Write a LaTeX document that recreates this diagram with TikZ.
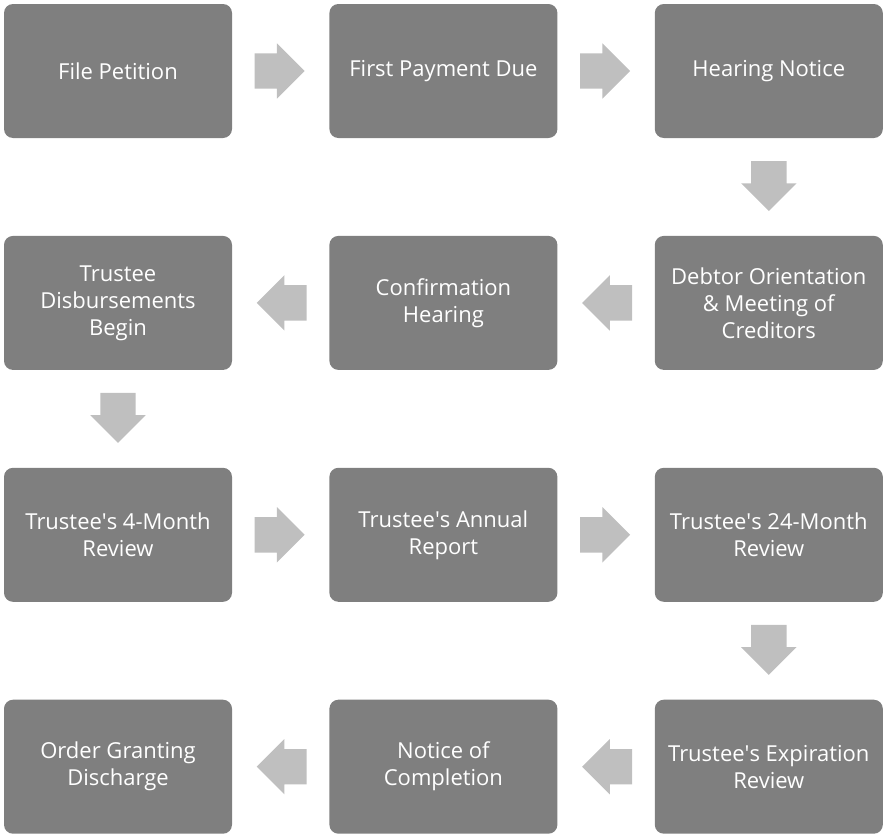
\documentclass[tikz,border=0pt]{standalone}
\usepackage{fontspec}
\setmainfont{Open Sans}
\usetikzlibrary{positioning,shapes.arrows,calc}
\definecolor{boxgray}{HTML}{7F7F7F}
\definecolor{arrowgray}{HTML}{BFBFBF}

\begin{document}
\begin{tikzpicture}[x=1pt,y=-1pt,
    stage/.style={fill=boxgray, rounded corners=9pt, minimum width=228pt,
      minimum height=134pt, text=white, align=center, inner sep=0pt,
      font=\fontsize{22}{27}\selectfont},
    flow/.style={single arrow, fill=arrowgray, inner xsep=0pt, inner ysep=17.5pt,
      minimum height=50pt, minimum width=55pt, anchor=tip,
      single arrow head extend=10pt, single arrow head indent=0pt},
    node distance=97.5pt and 97pt]
    \useasboundingbox (0,0) rectangle (885,835);
    % row 1
    \node [stage] (petition) at (118,71) {File Petition};
    \node [stage, right=of petition] (payment) {First Payment Due};
    \node [stage, right=of payment] (notice) {Hearing Notice};
    % row 2
    \node [stage, below=of notice] (meeting) {Debtor Orientation\\ \& Meeting of\\ Creditors};
    \node [stage, left=of meeting] (confirm) {Confirmation\\ Hearing};
    \node [stage, left=of confirm] (disburse) {Trustee\\ Disbursements\\ Begin};
    % row 3
    \node [stage, below=of disburse] (review4) {Trustee\textquotesingle s 4-Month\\ Review};
    \node [stage, right=of review4] (annual) {Trustee\textquotesingle s Annual\\ Report};
    \node [stage, right=of annual] (review24) {Trustee\textquotesingle s 24-Month\\ Review};
    % row 4
    \node [stage, below=of review24] (expire) {Trustee\textquotesingle s Expiration\\ Review};
    \node [stage, left=of expire] (complete) {Notice of\\ Completion};
    \node [stage, left=of complete] (discharge) {Order Granting\\ Discharge};
    % arrows, tip at three quarters of the gap
    \node [flow] (f1) at ($(petition.east)!0.75!(payment.west)$) {};
    \node [flow] (f2) at ($(payment.east)!0.75!(notice.west)$) {};
    \node [flow, rotate=-90] (f3) at ($(notice.south)!0.75!(meeting.north)$) {};
    \node [flow, rotate=180] (f4) at ($(meeting.west)!0.75!(confirm.east)$) {};
    \node [flow, rotate=180] (f5) at ($(confirm.west)!0.75!(disburse.east)$) {};
    \node [flow, rotate=-90] (f6) at ($(disburse.south)!0.75!(review4.north)$) {};
    \node [flow] (f7) at ($(review4.east)!0.75!(annual.west)$) {};
    \node [flow] (f8) at ($(annual.east)!0.75!(review24.west)$) {};
    \node [flow, rotate=-90] (f9) at ($(review24.south)!0.75!(expire.north)$) {};
    \node [flow, rotate=180] (f10) at ($(expire.west)!0.75!(complete.east)$) {};
    \node [flow, rotate=180] (f11) at ($(complete.west)!0.75!(discharge.east)$) {};
\end{tikzpicture}
\end{document}
